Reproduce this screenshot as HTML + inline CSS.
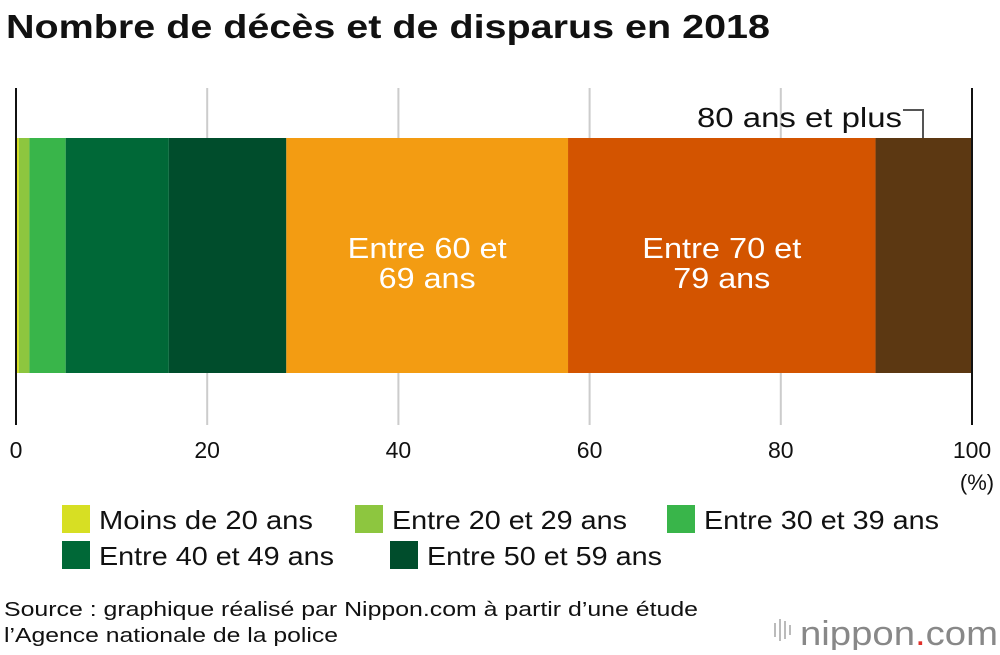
<!DOCTYPE html>
<html><head><meta charset="utf-8"><style>
body{margin:0;background:#fff;font-family:"Liberation Sans",sans-serif;}
svg text{font-family:"Liberation Sans",sans-serif;}
</style></head><body>
<svg width="1000" height="650">
<text x="6" y="38" font-size="33" font-weight="bold" fill="#111" textLength="764" lengthAdjust="spacingAndGlyphs">Nombre de décès et de disparus en 2018</text>
<g id="grid"></g>
<g id="bars"></g>
<line x1="16" y1="88" x2="16" y2="425" stroke="#111" stroke-width="2"/>
<line x1="972" y1="88" x2="972" y2="425" stroke="#111" stroke-width="2"/>
<text x="697" y="127" font-size="28" fill="#111" textLength="205" lengthAdjust="spacingAndGlyphs">80 ans et plus</text>
<polyline points="903,110 923,110 923,138" fill="none" stroke="#555" stroke-width="2"/>
<text x="977" y="490" font-size="22" text-anchor="middle" fill="#111">(%)</text>
<g id="legend"></g>
<text x="4" y="616" font-size="20" fill="#111" textLength="694" lengthAdjust="spacingAndGlyphs">Source : graphique réalisé par Nippon.com à partir d’une étude</text>
<text x="4" y="642" font-size="20" fill="#111" textLength="334" lengthAdjust="spacingAndGlyphs">l’Agence nationale de la police</text>
<g>
<rect x="774" y="623" width="2" height="14" fill="#bbb"/><rect x="779" y="619" width="2" height="22" fill="#bbb"/><rect x="784" y="621" width="2" height="18" fill="#bbb"/><rect x="789" y="625" width="2" height="10" fill="#bbb"/>
<text x="800" y="645" font-size="34" fill="#888" textLength="198" lengthAdjust="spacingAndGlyphs">nippon<tspan fill="#e0302a">.</tspan>com</text>
</g>
</svg>
<script>
const categories=["Moins de 20 ans","Entre 20 et 29 ans","Entre 30 et 39 ans","Entre 40 et 49 ans","Entre 50 et 59 ans","Entre 60 et 69 ans","Entre 70 et 79 ans","80 ans et plus"];
const values=[0.2,1.1,3.8,10.8,12.3,29.5,32.2,10.1];
const colors=["#d7df23","#8dc63f","#39b54a","#006837","#004d2c","#f39c12","#d35400","#5c3812"];
const ticks=[0,20,40,60,80,100];
const NS="http://www.w3.org/2000/svg";
const x=v=>17+v*9.55;
const y0=138,y1=373;
function mk(t,a,p){const e=document.createElementNS(NS,t);for(const k in a)e.setAttribute(k,a[k]);p.appendChild(e);return e;}
const grid=document.getElementById('grid');
ticks.forEach(t=>{
 const gx=16+t*9.56;
 if(t>0&&t<100){const l=mk('line',{x1:gx,x2:gx,y1:88,y2:425,stroke:'#ccc','stroke-width':2},grid);
 
 }
 const tx=mk('text',{x:gx,y:458,'font-size':23,'text-anchor':'middle',fill:'#111'},grid);
 tx.textContent=t;
 
 
});
const bars=document.getElementById('bars');
let cum=0;
values.forEach((v,i)=>{
 const r=mk('rect',{x:x(cum),y:y0,width:x(cum+v)-x(cum),height:y1-y0,fill:colors[i]},bars);
 
 
 if(i===5||i===6){
  const cx=(x(cum)+x(cum+v))/2;
  const w=categories[i].split(' ');
  const t=mk('text',{x:cx,y:258,'font-size':29,'text-anchor':'middle',fill:'#fff',textLength:159,lengthAdjust:'spacingAndGlyphs'},bars);
  t.textContent=w[0]+' '+w[1]+' '+w[2];
  
  
  const t2=mk('text',{x:cx,y:288,'font-size':29,'text-anchor':'middle',fill:'#fff',textLength:97,lengthAdjust:'spacingAndGlyphs'},bars);
  t2.textContent=w[3]+' ans';
  
  
 }
 cum+=v;
});
const leg=document.getElementById('legend');
const pos=[[62,520],[355,520],[667,520],[62,556],[390,556]];
const lens=[214,235,235,235,235];
for(let i=0;i<5;i++){
 const g=mk('g',{},leg);
 
 
 mk('rect',{x:pos[i][0],y:pos[i][1]-15,width:28,height:28,fill:colors[i]},g);
 const t=mk('text',{x:pos[i][0]+37,y:pos[i][1]+9,'font-size':26,fill:'#111',textLength:lens[i],lengthAdjust:'spacingAndGlyphs'},g);
 t.textContent=categories[i];
}
</script>
</body></html>
